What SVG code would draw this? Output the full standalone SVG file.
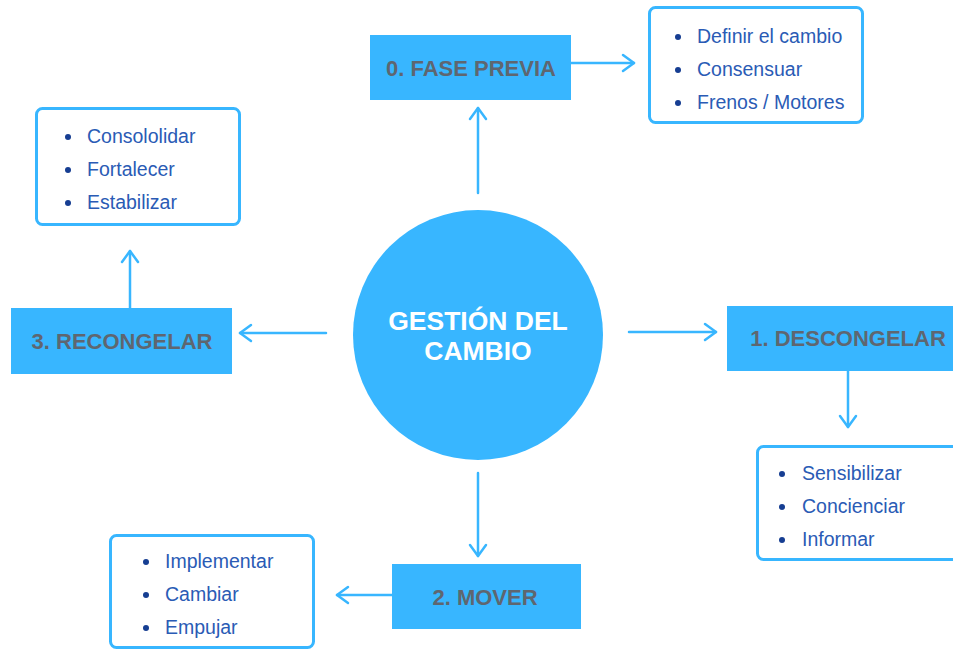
<svg xmlns="http://www.w3.org/2000/svg" width="953" height="649" viewBox="0 0 953 649">
<defs>
<style>
.step{fill:#38b6ff}
.stepText{font-family:"Liberation Sans",Arial,sans-serif;font-weight:bold;font-size:22px;fill:#5f6670;text-anchor:middle}
.hub{fill:#38b6ff}
.hubText{font-family:"Liberation Sans",Arial,sans-serif;font-weight:bold;font-size:26.5px;fill:#ffffff;text-anchor:middle}
.list{fill:#ffffff;stroke:#38b6ff;stroke-width:3}
.item{font-family:"Liberation Sans",Arial,sans-serif;font-size:19.5px;fill:#2a5bb5}
.dot{fill:#163e92}
.conn{stroke:#38b6ff;stroke-width:2.5;fill:none;stroke-linecap:round}
</style>
<marker id="ah" markerUnits="userSpaceOnUse" markerWidth="20" markerHeight="20" viewBox="-13 -10 15 20" refX="0" refY="0" orient="auto">
<path d="M-11,-8 L0,0 L-11,8" fill="none" stroke="#38b6ff" stroke-width="2.5" stroke-linecap="round" stroke-linejoin="round"/>
</marker>
</defs>
<rect width="953" height="649" fill="#ffffff"/>

<g id="connectors">
<line class="conn" x1="478" y1="193" x2="478" y2="108" marker-end="url(#ah)"/>
<line class="conn" x1="571" y1="63" x2="634" y2="63" marker-end="url(#ah)"/>
<line class="conn" x1="629" y1="332" x2="716" y2="332" marker-end="url(#ah)"/>
<line class="conn" x1="848" y1="371" x2="848" y2="427" marker-end="url(#ah)"/>
<line class="conn" x1="478" y1="473" x2="478" y2="556" marker-end="url(#ah)"/>
<line class="conn" x1="392" y1="595" x2="337" y2="595" marker-end="url(#ah)"/>
<line class="conn" x1="326" y1="333" x2="240" y2="333" marker-end="url(#ah)"/>
<line class="conn" x1="130" y1="308" x2="130" y2="251" marker-end="url(#ah)"/>
</g>

<g id="hub">
<circle class="hub" cx="478" cy="335" r="125"/>
<text class="hubText" x="478" y="330">GESTIÓN DEL</text>
<text class="hubText" x="478" y="360">CAMBIO</text>
</g>

<g id="fase-previa">
<rect class="step" x="370" y="35" width="201" height="65"/>
<text class="stepText" x="471" y="76">0. FASE PREVIA</text>
</g>

<g id="fase-previa-list">
<rect class="list" x="649.5" y="7.5" width="213" height="115" rx="6"/>
<circle class="dot" cx="678" cy="37" r="3"/>
<circle class="dot" cx="678" cy="70" r="3"/>
<circle class="dot" cx="678" cy="103" r="3"/>
<text class="item" x="697" y="43">Definir el cambio</text>
<text class="item" x="697" y="76">Consensuar</text>
<text class="item" x="697" y="109">Frenos / Motores</text>
</g>

<g id="descongelar">
<rect class="step" x="727" y="306" width="240" height="65"/>
<text class="stepText" x="848" y="346">1. DESCONGELAR</text>
</g>

<g id="descongelar-list">
<rect class="list" x="757.5" y="446.5" width="215" height="113" rx="6"/>
<circle class="dot" cx="782" cy="474" r="3"/>
<circle class="dot" cx="782" cy="507" r="3"/>
<circle class="dot" cx="782" cy="540" r="3"/>
<text class="item" x="802" y="480">Sensibilizar</text>
<text class="item" x="802" y="513">Concienciar</text>
<text class="item" x="802" y="546">Informar</text>
</g>

<g id="mover">
<rect class="step" x="392" y="564" width="189" height="65"/>
<text class="stepText" x="485" y="605">2. MOVER</text>
</g>

<g id="mover-list">
<rect class="list" x="110.5" y="535.5" width="203" height="112" rx="6"/>
<circle class="dot" cx="146" cy="562" r="3"/>
<circle class="dot" cx="146" cy="595" r="3"/>
<circle class="dot" cx="146" cy="628" r="3"/>
<text class="item" x="165" y="568">Implementar</text>
<text class="item" x="165" y="601">Cambiar</text>
<text class="item" x="165" y="634">Empujar</text>
</g>

<g id="recongelar">
<rect class="step" x="11" y="308" width="221" height="66"/>
<text class="stepText" x="122" y="349">3. RECONGELAR</text>
</g>

<g id="recongelar-list">
<rect class="list" x="36.5" y="108.5" width="203" height="116" rx="6"/>
<circle class="dot" cx="68" cy="137" r="3"/>
<circle class="dot" cx="68" cy="170" r="3"/>
<circle class="dot" cx="68" cy="203" r="3"/>
<text class="item" x="87" y="143">Consololidar</text>
<text class="item" x="87" y="176">Fortalecer</text>
<text class="item" x="87" y="209">Estabilizar</text>
</g>
</svg>
